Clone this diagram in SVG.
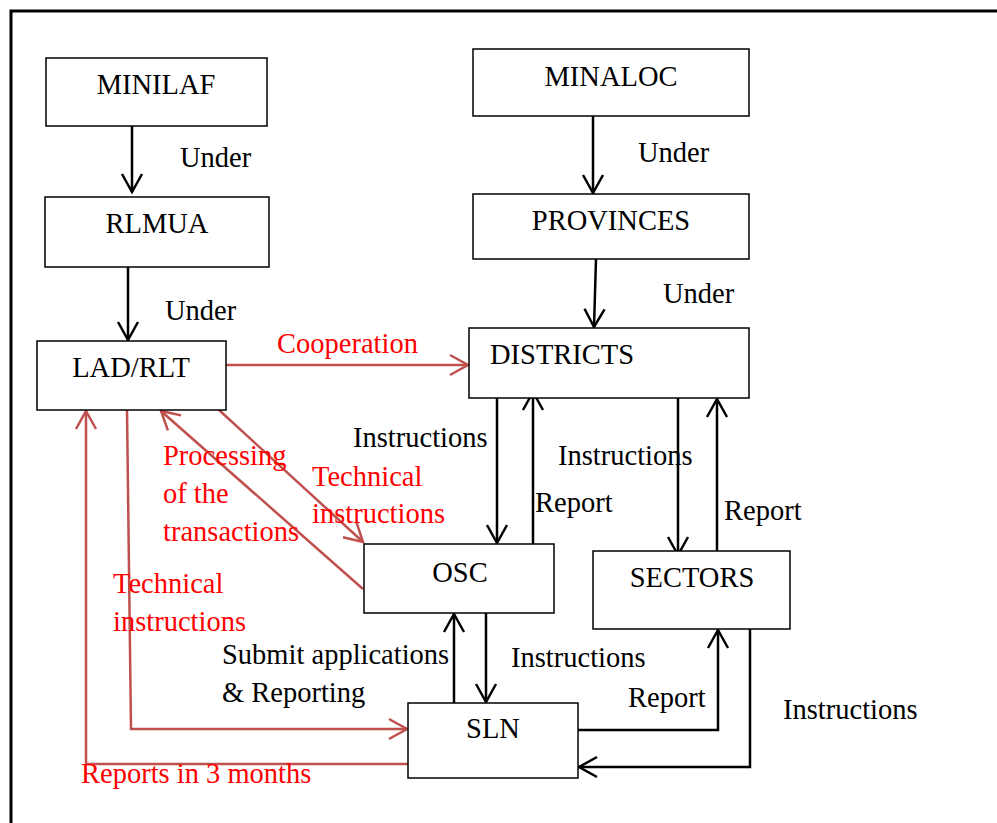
<svg xmlns="http://www.w3.org/2000/svg" width="997" height="823" viewBox="0 0 997 823">
<defs>
<style>
.box{fill:#fff;stroke:#000;stroke-width:1.5}
.t{font-family:"Liberation Serif","Times New Roman",serif;font-size:28.5px;fill:#000}
.r{font-family:"Liberation Serif","Times New Roman",serif;font-size:28.5px;fill:#ff0000}
.b{fill:none;stroke:#000;stroke-width:2.5}
.rd{fill:none;stroke:#c0504d;stroke-width:2.5}
</style>
<marker id="ab" markerUnits="userSpaceOnUse" markerWidth="24" markerHeight="24" viewBox="-20 -12 24 24" refX="0" refY="0" orient="auto">
<path d="M-18,-10 L0,0 L-18,10" fill="none" stroke="#000" stroke-width="2.5"/>
</marker>
<marker id="ar" markerUnits="userSpaceOnUse" markerWidth="24" markerHeight="24" viewBox="-20 -12 24 24" refX="0" refY="0" orient="auto">
<path d="M-18,-10 L0,0 L-18,10" fill="none" stroke="#c0504d" stroke-width="2.5"/>
</marker>
</defs>
<rect width="997" height="823" fill="#fff"/>
<path d="M11,823 L11,11 L997,11" fill="none" stroke="#000" stroke-width="3"/>

<g id="connectors">
<line class="b" x1="132" y1="126" x2="132" y2="192" marker-end="url(#ab)"/>
<line class="b" x1="128" y1="267" x2="128" y2="340" marker-end="url(#ab)"/>
<line class="b" x1="593" y1="116" x2="593" y2="193" marker-end="url(#ab)"/>
<line class="b" x1="596" y1="259" x2="594" y2="327" marker-end="url(#ab)"/>
<line class="rd" x1="226" y1="365" x2="468" y2="365" marker-end="url(#ar)"/>
<line class="b" x1="497" y1="398" x2="497" y2="543" marker-end="url(#ab)"/>
<line class="b" x1="533" y1="544" x2="533" y2="392" marker-end="url(#ab)"/>
<line class="b" x1="678" y1="398" x2="678" y2="555" marker-end="url(#ab)"/>
<line class="b" x1="717" y1="551" x2="717" y2="399" marker-end="url(#ab)"/>
<line class="rd" x1="219" y1="410" x2="363" y2="542" marker-end="url(#ar)"/>
<line class="rd" x1="363" y1="589" x2="161" y2="411" marker-end="url(#ar)"/>
<polyline class="rd" points="127,410 131,729 407,729" marker-end="url(#ar)"/>
<polyline class="rd" points="408,764 86,764 86,411" marker-end="url(#ar)"/>
<line class="b" x1="454" y1="703" x2="454" y2="614" marker-end="url(#ab)"/>
<line class="b" x1="486" y1="613" x2="486" y2="702" marker-end="url(#ab)"/>
<polyline class="b" points="578,730 718,730 718,630" marker-end="url(#ab)"/>
<polyline class="b" points="750,629 750,767 579,767" marker-end="url(#ab)"/>
</g>

<g id="labels">
<text class="t" x="180" y="167">Under</text>
<text class="t" x="165" y="320">Under</text>
<text class="t" x="638" y="162">Under</text>
<text class="t" x="663" y="303">Under</text>
<text class="r" x="277" y="353">Cooperation</text>
<text class="t" x="353" y="447">Instructions</text>
<text class="t" x="558" y="465">Instructions</text>
<text class="t" x="535" y="512">Report</text>
<text class="t" x="724" y="520">Report</text>
<text class="r" x="163" y="465">Processing</text>
<text class="r" x="163" y="503">of the</text>
<text class="r" x="163" y="541">transactions</text>
<text class="r" x="312" y="486">Technical</text>
<text class="r" x="312" y="523">instructions</text>
<text class="r" x="113" y="593">Technical</text>
<text class="r" x="113" y="631">instructions</text>
<text class="t" x="222" y="664">Submit applications</text>
<text class="t" x="222" y="702">&amp; Reporting</text>
<text class="t" x="511" y="667">Instructions</text>
<text class="t" x="628" y="707">Report</text>
<text class="t" x="783" y="719">Instructions</text>
<text class="r" x="81" y="783">Reports in 3 months</text>
</g>

<g id="MINILAF"><rect class="box" x="46" y="58" width="221" height="68"/><text class="t" x="156" y="94" text-anchor="middle">MINILAF</text></g>
<g id="RLMUA"><rect class="box" x="45" y="197" width="224" height="70"/><text class="t" x="157" y="233" text-anchor="middle">RLMUA</text></g>
<g id="LADRLT"><rect class="box" x="37" y="341" width="189" height="69"/><text class="t" x="131" y="377" text-anchor="middle">LAD/RLT</text></g>
<g id="MINALOC"><rect class="box" x="473" y="49" width="276" height="67"/><text class="t" x="611" y="86" text-anchor="middle">MINALOC</text></g>
<g id="PROVINCES"><rect class="box" x="473" y="194" width="276" height="65"/><text class="t" x="611" y="230" text-anchor="middle">PROVINCES</text></g>
<g id="DISTRICTS"><rect class="box" x="469" y="328" width="280" height="70"/><text class="t" x="490" y="364">DISTRICTS</text></g>
<g id="OSC"><rect class="box" x="364" y="544" width="190" height="69"/><text class="t" x="460" y="582" text-anchor="middle">OSC</text></g>
<g id="SECTORS"><rect class="box" x="593" y="551" width="197" height="78"/><text class="t" x="692" y="587" text-anchor="middle">SECTORS</text></g>
<g id="SLN"><rect class="box" x="408" y="703" width="170" height="75"/><text class="t" x="493" y="738" text-anchor="middle">SLN</text></g>
</svg>
